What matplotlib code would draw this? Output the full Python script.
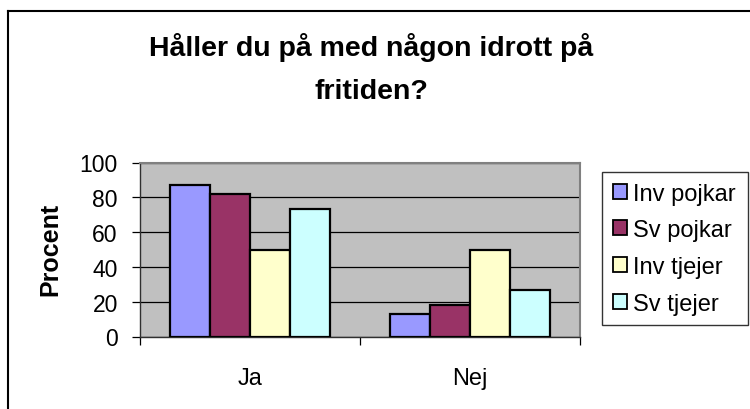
import numpy as np
import matplotlib
matplotlib.use('Agg')
import matplotlib.pyplot as plt
from matplotlib.lines import Line2D
from matplotlib.patches import Patch

plt.rcParams['font.family'] = ['Liberation Sans', 'DejaVu Sans']

categories = ['Ja', 'Nej']
series = ['Inv pojkar', 'Sv pojkar', 'Inv tjejer', 'Sv tjejer']
inv_pojkar = [87, 13]
sv_pojkar = [82, 18]
inv_tjejer = [50, 50]
sv_tjejer = [73, 27]
colors = ['#9999FF', '#993366', '#FFFFCC', '#CCFFFF']
yticks = [0, 20, 40, 60, 80, 100]
title_lines = ['Håller du på med någon idrott på', 'fritiden?']

fig = plt.figure(figsize=(7.5, 4.1), dpi=100)
ax = fig.add_axes([140/750, 1 - 337.5/410, 440/750, 174/410])
ax.set_facecolor('#C0C0C0')

x = np.arange(len(categories))
w = 40/220
values = [inv_pojkar, sv_pojkar, inv_tjejer, sv_tjejer]
for i, (vals, c) in enumerate(zip(values, colors)):
    ax.bar(x + (i - 1.5)*w, vals, w, color=c, edgecolor='black', linewidth=1.6, zorder=3)

ax.set_xlim(-0.5, 1.5)
ax.set_ylim(0, 100)
ax.set_yticks(yticks)
ax.yaxis.grid(True, color='black', linewidth=0.9, zorder=1)
ax.set_axisbelow(True)
ax.tick_params(axis='y', direction='out', length=6, width=0.9, labelsize=16.5, pad=10)

ax.set_xticks([-0.5, 0.5, 1.5])
ax.set_xticklabels([])
ax.set_xticks(x, minor=True)
ax.set_xticklabels(categories, minor=True)
ax.tick_params(axis='x', which='major', direction='out', length=6, width=0.9)
ax.tick_params(axis='x', which='minor', length=0, labelsize=17, pad=22)

for s in ['top', 'right']:
    ax.spines[s].set_color('#808080')
    ax.spines[s].set_linewidth(1.5)
for s in ['left', 'bottom']:
    ax.spines[s].set_color('#303030')
    ax.spines[s].set_linewidth(1.0)

fig.text(50/750, 1 - 249/410, 'Procent', rotation=90, ha='center', va='center',
         fontsize=18, fontweight='bold')

for line, base in zip(title_lines, [56, 99]):
    fig.text(371/750, 1 - base/410, line, ha='center', va='baseline',
             fontsize=20.5, fontweight='bold')

handles = [Patch(facecolor=c, edgecolor='black', linewidth=1.3) for c in colors]
leg = fig.legend(handles, series, loc='upper left', mode='expand',
                 bbox_to_anchor=(602/750, 1 - 327/410, 146/750, 154/410),
                 fontsize=17, frameon=True, fancybox=False, handlelength=0.6, handleheight=0.6,
                 handletextpad=0.25, labelspacing=0.62, borderpad=0.45, borderaxespad=0)
leg.get_frame().set_edgecolor('black')
leg.get_frame().set_linewidth(1.0)

# outer chart border (only left and top visible in crop)
fig.add_artist(Line2D([8/750, 8/750], [0, 1 - 12/410], color='black', linewidth=1.5, transform=fig.transFigure))
fig.add_artist(Line2D([8/750, 1], [1 - 12/410, 1 - 12/410], color='black', linewidth=1.5, transform=fig.transFigure))

fig.savefig('out.png', dpi=100)
